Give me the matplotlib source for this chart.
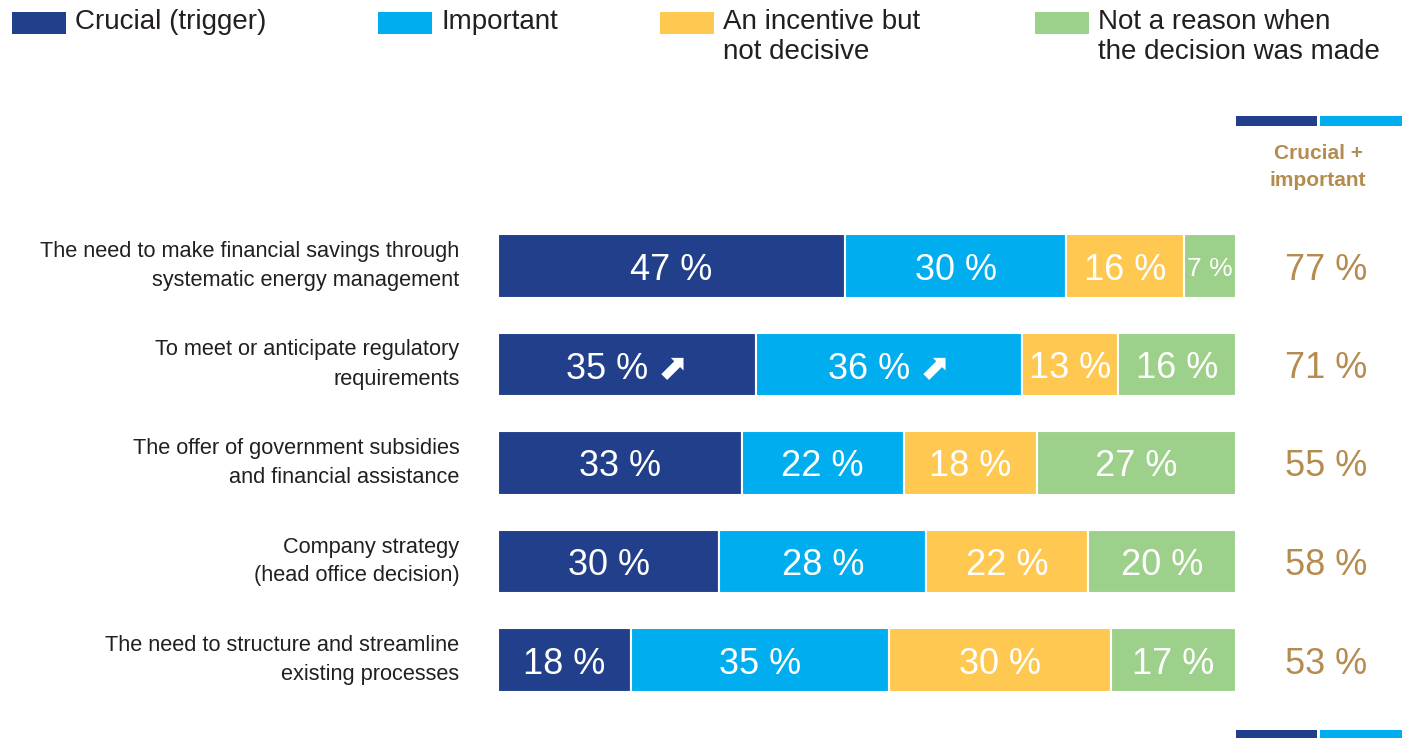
import matplotlib.pyplot as plt
from matplotlib.patches import Rectangle

plt.rcParams['font.family'] = ['Liberation Sans', 'DejaVu Sans']

reasons = [
    "The need to make financial savings through\nsystematic energy management",
    "To meet or anticipate regulatory\nrequirements",
    "The offer of government subsidies\nand financial assistance",
    "Company strategy\n(head office decision)",
    "The need to structure and streamline\nexisting processes",
]
crucial = [47, 35, 33, 30, 18]
important = [30, 36, 22, 28, 35]
incentive = [16, 13, 18, 22, 30]
not_reason = [7, 16, 27, 20, 17]
rising = [False, True, False, False, False]  # arrow marks on row 2

series_names = ["Crucial (trigger)", "Important",
                "An incentive but\nnot decisive",
                "Not a reason when\nthe decision was made"]
colors = ["#223F8B", "#00AEEF", "#FFC850", "#9DD08A"]
gold = "#B58C4F"

W, H = 1402, 738
fig = plt.figure(figsize=(W / 100, H / 100), dpi=100)

# bar area in pixels: x 498..1236, rows centred at 266 + i*98.5
x0, x1 = 498, 1236
top, bottom = 266 - 49.25, 660 + 49.25
ax = fig.add_axes([x0 / W, 1 - bottom / H, (x1 - x0) / W, (bottom - top) / H])
ax.set_xlim(0, 100)
ax.set_ylim(4.5, -0.5)
ax.axis("off")

rows = range(len(reasons))
series = [crucial, important, incentive, not_reason]
left = [0] * len(reasons)
for k, vals in enumerate(series):
    ax.barh(rows, vals, left=left, height=0.64, color=colors[k],
            edgecolor="white", linewidth=1.5)
    for i, v in enumerate(vals):
        txt = f"{v} %"
        if k < 2 and rising[i]:
            txt += " \u2b08"
        size = 26 if v >= 10 else 19
        ax.text(left[i] + v / 2, i, txt, ha="center", va="center_baseline",
                color="white", fontsize=size)
    left = [a + b for a, b in zip(left, vals)]

for i, lab in enumerate(reasons):
    ax.text(-5.2, i, lab, ha="right", va="center", fontsize=15.7,
            color="#231F20", linespacing=1.5, clip_on=False)
    total = crucial[i] + important[i]
    ax.text(112.2, i, f"{total} %", ha="center", va="center_baseline",
            fontsize=26, color=gold, clip_on=False)

# header of the total column
fig.text(1318 / W, 1 - 167 / H, "Crucial +\nimportant", ha="center",
         va="center", fontsize=15, fontweight="bold", color=gold,
         linespacing=1.55)
for yp in (116, 730):
    fig.add_artist(Rectangle((1236 / W, 1 - (yp + 10) / H), 81 / W, 10 / H,
                             transform=fig.transFigure, color=colors[0], lw=0))
    fig.add_artist(Rectangle((1320 / W, 1 - (yp + 10) / H), 82 / W, 10 / H,
                             transform=fig.transFigure, color=colors[1], lw=0))

# legend
patch_x = [12, 378, 660, 1035]
for k, name in enumerate(series_names):
    fig.add_artist(Rectangle((patch_x[k] / W, 1 - 34 / H), 54 / W, 22 / H,
                             transform=fig.transFigure, color=colors[k], lw=0))
    fig.text((patch_x[k] + 63) / W, 1 - 9 / H, name, ha="left", va="top",
             fontsize=20, color="#231F20", linespacing=1.22)

fig.savefig("out.png", dpi=100)
